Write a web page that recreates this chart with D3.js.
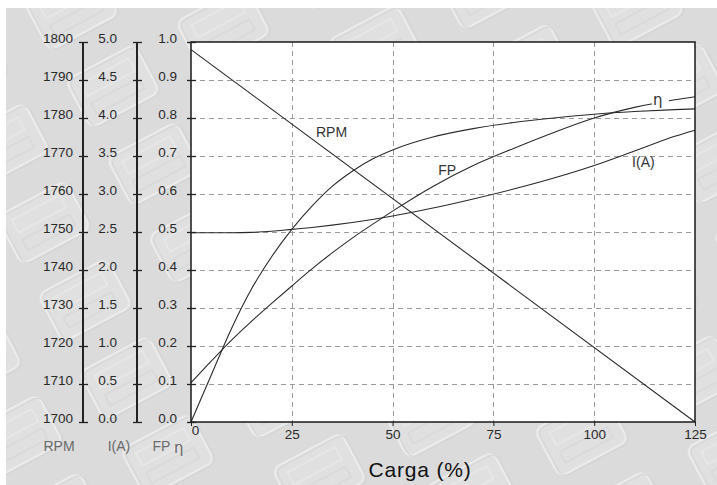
<!DOCTYPE html>
<html>
<head>
<meta charset="utf-8">
<script src="https://cdn.jsdelivr.net/npm/d3@7"></script>
<style>
  html, body { margin: 0; padding: 0; background: #fff; }
  svg { display: block; font-family: "Liberation Sans", Arial, sans-serif; }
</style>
</head>
<body>
<svg id="chart" width="717" height="485"></svg>
<script>
// load (%) sample points shared by the curves
var loadPct = [0, 5, 10, 15, 20, 25, 30, 35, 40, 45, 50, 60, 70, 80, 90, 100, 110, 120, 125];
// efficiency (steep curve) and power factor, 0..1
var etaValues = [0, 0.123, 0.245, 0.35, 0.435, 0.507, 0.568, 0.62, 0.66, 0.692, 0.716, 0.75, 0.772, 0.788, 0.80, 0.81, 0.817, 0.822, 0.824];
var fpValues = [0.103, 0.16, 0.215, 0.265, 0.312, 0.358, 0.403, 0.445, 0.484, 0.52, 0.555, 0.62, 0.675, 0.72, 0.762, 0.80, 0.828, 0.848, 0.856];
// current (A)
var currentValues = [2.49, 2.49, 2.49, 2.495, 2.51, 2.535, 2.56, 2.59, 2.625, 2.665, 2.71, 2.815, 2.935, 3.065, 3.21, 3.375, 3.565, 3.76, 3.84];
// speed is a straight line
var rpmLoad = [0, 125];
var rpmValues = [1798, 1700];

var xTicks = [0, 25, 50, 75, 100, 125];
var rpmTicks = [1700, 1710, 1720, 1730, 1740, 1750, 1760, 1770, 1780, 1790, 1800];
var currentTicks = [0, 0.5, 1, 1.5, 2, 2.5, 3, 3.5, 4, 4.5, 5];
var fpTicks = [0, 0.1, 0.2, 0.3, 0.4, 0.5, 0.6, 0.7, 0.8, 0.9, 1];

var svg = d3.select("#chart");
var margin = { top: 42, right: 22, bottom: 63, left: 191 };
var width = 717, height = 485;

// background with faint embossed tiles
var defs = svg.append("defs");
var pat = defs.append("pattern")
    .attr("id", "tiles")
    .attr("patternUnits", "userSpaceOnUse")
    .attr("width", 125).attr("height", 88)
    .attr("patternTransform", "rotate(-28)");
pat.append("rect").attr("width", 125).attr("height", 88).attr("fill", "#dbdbdb");
pat.append("rect").attr("x", 20).attr("y", 14).attr("width", 78).attr("height", 54).attr("rx", 8)
    .attr("fill", "#e0e0e0").attr("stroke", "#ececec").attr("stroke-width", 2);
pat.append("rect").attr("x", 22).attr("y", 16).attr("width", 78).attr("height", 54).attr("rx", 8)
    .attr("fill", "none").attr("stroke", "#d2d2d2").attr("stroke-width", 1);
pat.append("rect").attr("x", 32).attr("y", 24).attr("width", 54).attr("height", 14)
    .attr("fill", "none").attr("stroke", "#e9e9e9").attr("stroke-width", 1.5);
pat.append("rect").attr("x", 32).attr("y", 46).attr("width", 54).attr("height", 12)
    .attr("fill", "none").attr("stroke", "#d5d5d5").attr("stroke-width", 1);

svg.append("rect").attr("width", width).attr("height", height).attr("fill", "#fff");
svg.append("rect").attr("x", 6).attr("y", 8).attr("width", width - 6).attr("height", height - 8)
    .attr("fill", "url(#tiles)");

var x = d3.scaleLinear().domain([0, 125]).range([margin.left, width - margin.right]);
var yFP = d3.scaleLinear().domain([0, 1]).range([height - margin.bottom, margin.top]);
var yI = d3.scaleLinear().domain([0, 5]).range(yFP.range());
var yRPM = d3.scaleLinear().domain([1700, 1800]).range(yFP.range());

// plot area
svg.append("rect")
    .attr("x", x(0)).attr("y", yFP(1))
    .attr("width", x(125) - x(0)).attr("height", yFP(0) - yFP(1))
    .attr("fill", "#fff");

// grid
var grid = svg.append("g").attr("stroke", "#9a9a9a").attr("stroke-dasharray", "5,4").attr("stroke-width", 1);
grid.selectAll(".hg").data(fpTicks.slice(1, -1)).enter().append("line")
    .attr("x1", x(0)).attr("x2", x(125))
    .attr("y1", d => Math.round(yFP(d)) + 0.5).attr("y2", d => Math.round(yFP(d)) + 0.5);
grid.selectAll(".vg").data(xTicks.slice(1, -1)).enter().append("line")
    .attr("y1", yFP(1)).attr("y2", yFP(0))
    .attr("x1", d => Math.round(x(d)) + 0.5).attr("x2", d => Math.round(x(d)) + 0.5);

// curves
var lineFP = d3.line().x((d, i) => x(loadPct[i])).y(d => yFP(d)).curve(d3.curveMonotoneX);
var lineI = d3.line().x((d, i) => x(loadPct[i])).y(d => yI(d)).curve(d3.curveMonotoneX);
var lineRPM = d3.line().x((d, i) => x(rpmLoad[i])).y(d => yRPM(d));

var curves = svg.append("g").attr("fill", "none").attr("stroke", "#2a2a2a").attr("stroke-width", 1.1);
curves.append("path").attr("d", lineRPM(rpmValues));
curves.append("path").attr("d", lineI(currentValues));
curves.append("path").attr("d", lineFP(etaValues));
curves.append("path").attr("d", lineFP(fpValues));

// frame
svg.append("rect")
    .attr("x", x(0)).attr("y", yFP(1))
    .attr("width", x(125) - x(0)).attr("height", yFP(0) - yFP(1))
    .attr("fill", "none").attr("stroke", "#1a1a1a").attr("stroke-width", 1.5);

// curve labels
var labels = svg.append("g").attr("font-size", 14).attr("fill", "#333");
labels.append("text").attr("x", x(31)).attr("y", yRPM(1775)).text("RPM");
labels.append("text").attr("x", x(61.3)).attr("y", yFP(0.65)).text("FP");
labels.append("text").attr("x", x(109.4)).attr("y", yI(3.35)).text("I(A)");
labels.append("rect").attr("x", x(114.3)).attr("y", yFP(0.872)).attr("width", 17).attr("height", 14).attr("fill", "#fff");
labels.append("text").attr("x", x(114.6)).attr("y", yFP(0.835))
    .attr("font-family", "DejaVu Sans").attr("font-size", 15).text("η");

// left axes
function styleAxis(g, padding) {
    g.select(".domain").remove();
    g.selectAll(".tick line").attr("x1", -4).attr("x2", 5).attr("stroke", "#222").attr("stroke-width", 1.3);
    g.selectAll(".tick text").attr("x", -padding).attr("dy", "0.05em")
        .attr("fill", "#2a2a2a").attr("font-size", 13.5).attr("font-family", "Liberation Sans, Arial, sans-serif");
}

var rpmAxisX = 83, iAxisX = 137;
[[rpmAxisX, yRPM, rpmTicks, d3.format("d"), 10],
 [iAxisX, yI, currentTicks, d3.format(".1f"), 20],
 [x(0), yFP, fpTicks, d3.format(".1f"), 14]].forEach(function(a) {
    var g = svg.append("g").attr("transform", "translate(" + a[0] + ",0)")
        .call(d3.axisLeft(a[1]).tickValues(a[2]).tickFormat(a[3]));
    styleAxis(g, a[4]);
});
svg.selectAll(".axis-line").data([rpmAxisX, iAxisX]).enter().append("line")
    .attr("x1", d => d).attr("x2", d => d)
    .attr("y1", yFP(1)).attr("y2", yFP(0))
    .attr("stroke", "#222").attr("stroke-width", 2);

// bottom axis
var xg = svg.append("g").attr("transform", "translate(0," + yFP(0) + ")")
    .call(d3.axisBottom(x).tickValues(xTicks).tickSize(4).tickPadding(3));
xg.select(".domain").remove();
xg.selectAll(".tick line").attr("stroke", "#222");
xg.selectAll(".tick text").attr("fill", "#2a2a2a").attr("font-size", 13.5)
    .attr("font-family", "Liberation Sans, Arial, sans-serif")
    .attr("dx", d => d === 0 ? 4 : 0).attr("dy", d => d === 0 ? "0.45em" : "0.71em");

// axis names
var names = svg.append("g").attr("font-size", 14).attr("fill", "#6a6a6a").attr("text-anchor", "middle");
names.append("text").attr("x", 59).attr("y", 451).text("RPM");
names.append("text").attr("x", 119).attr("y", 451).text("I(A)");
var fpName = names.append("text").attr("x", 168).attr("y", 451);
fpName.append("tspan").text("FP ");
fpName.append("tspan").attr("font-family", "DejaVu Sans").attr("font-size", 15).attr("dy", 2).text("η");

svg.append("text")
    .attr("x", 420).attr("y", 477)
    .attr("text-anchor", "middle")
    .attr("font-size", 21).attr("letter-spacing", 0.8).attr("fill", "#111")
    .text("Carga (%)");
</script>
</body>
</html>
